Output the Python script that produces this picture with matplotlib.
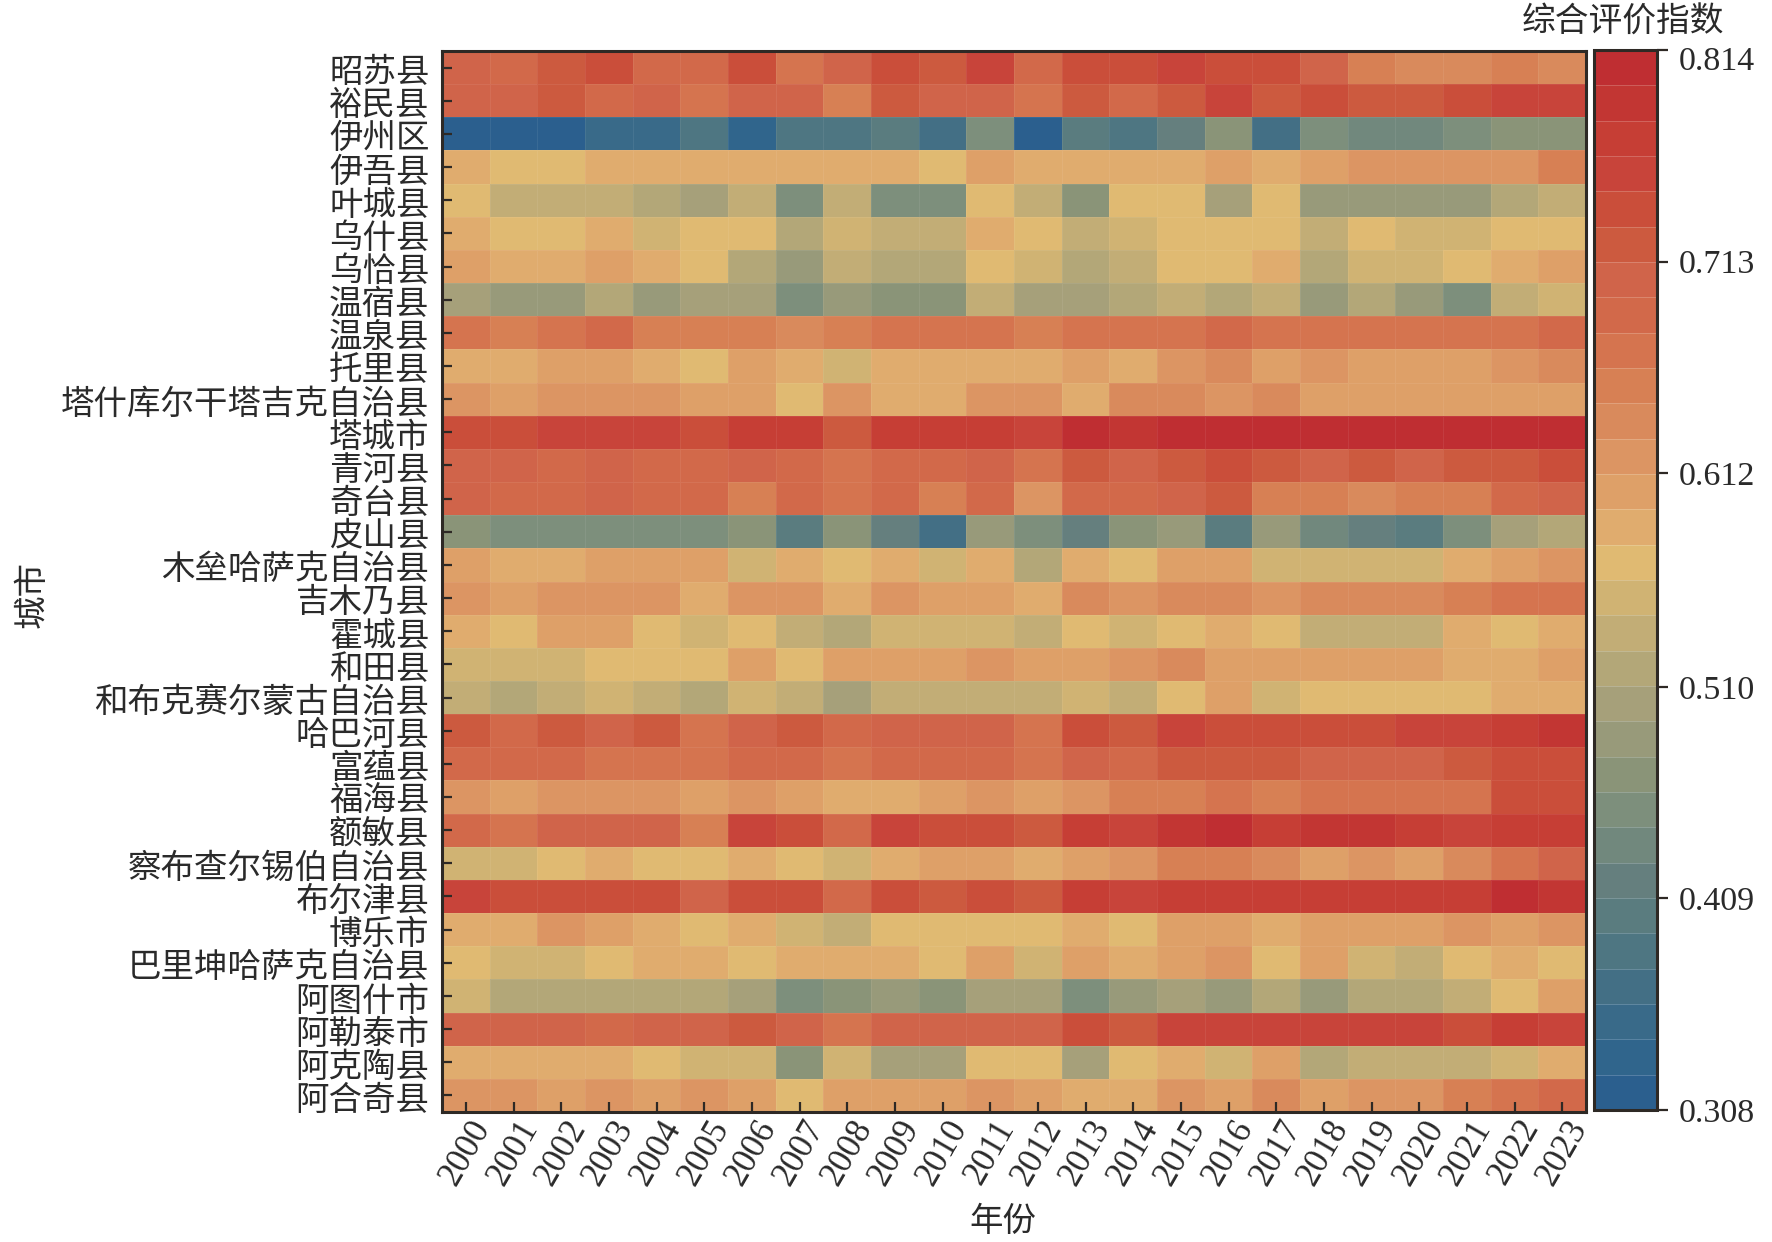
import matplotlib
matplotlib.use("Agg")
import matplotlib.pyplot as plt
from matplotlib.colors import ListedColormap, BoundaryNorm
from matplotlib.transforms import ScaledTranslation
import numpy as np

plt.rcParams['font.family'] = ['Liberation Serif', 'Noto Sans CJK SC']

cities = ["昭苏县", "裕民县", "伊州区", "伊吾县", "叶城县", "乌什县", "乌恰县", "温宿县",
          "温泉县", "托里县", "塔什库尔干塔吉克自治县", "塔城市", "青河县", "奇台县", "皮山县",
          "木垒哈萨克自治县", "吉木乃县", "霍城县", "和田县", "和布克赛尔蒙古自治县", "哈巴河县",
          "富蕴县", "福海县", "额敏县", "察布查尔锡伯自治县", "布尔津县", "博乐市",
          "巴里坤哈萨克自治县", "阿图什市", "阿勒泰市", "阿克陶县", "阿合奇县"]
years = list(range(2000, 2024))
cbar_ticks = [0.308, 0.409, 0.510, 0.612, 0.713, 0.814]

index_rows = [
    [.705,.688,.722,.738,.688,.688,.738,.671,.705,.738,.722,.755,.688,.738,.738,.755,.738,.738,.705,.654,.637,.637,.654,.637],
    [.705,.705,.722,.688,.705,.671,.705,.705,.654,.722,.705,.705,.671,.722,.688,.722,.755,.722,.738,.722,.722,.738,.755,.755],
    [.316,.316,.316,.350,.350,.384,.333,.384,.384,.401,.367,.452,.316,.401,.384,.418,.468,.367,.452,.435,.435,.452,.468,.468],
    [.587,.570,.570,.587,.587,.587,.587,.587,.587,.587,.570,.603,.587,.587,.587,.587,.603,.587,.603,.620,.620,.620,.620,.654],
    [.570,.536,.536,.536,.519,.502,.536,.452,.536,.452,.452,.570,.536,.468,.570,.570,.502,.570,.485,.485,.485,.485,.519,.536],
    [.587,.570,.570,.587,.553,.570,.570,.519,.553,.536,.536,.587,.570,.536,.553,.570,.570,.570,.536,.570,.553,.553,.570,.570],
    [.603,.587,.587,.603,.587,.570,.519,.485,.536,.519,.519,.570,.553,.519,.536,.570,.570,.587,.519,.553,.553,.570,.587,.603],
    [.502,.485,.485,.519,.485,.502,.502,.452,.485,.468,.468,.536,.502,.502,.519,.536,.519,.536,.485,.519,.485,.452,.536,.553],
    [.671,.654,.671,.688,.654,.654,.654,.637,.654,.671,.671,.671,.654,.671,.671,.671,.688,.671,.671,.671,.671,.671,.671,.688],
    [.587,.587,.603,.603,.587,.570,.603,.587,.553,.587,.587,.587,.587,.603,.587,.620,.637,.603,.620,.603,.603,.603,.620,.637],
    [.620,.603,.620,.620,.620,.603,.603,.570,.620,.587,.587,.620,.620,.587,.637,.637,.620,.637,.603,.603,.603,.603,.603,.603],
    [.738,.738,.755,.755,.755,.738,.772,.772,.722,.772,.772,.772,.755,.806,.789,.806,.806,.806,.806,.806,.806,.806,.806,.806],
    [.705,.705,.688,.705,.688,.688,.705,.688,.671,.688,.688,.705,.671,.722,.705,.722,.738,.722,.705,.722,.705,.722,.722,.738],
    [.705,.688,.688,.705,.688,.688,.654,.688,.671,.688,.654,.688,.620,.688,.688,.705,.722,.654,.654,.637,.654,.654,.688,.705],
    [.468,.452,.452,.452,.452,.452,.468,.401,.468,.418,.367,.485,.452,.418,.468,.485,.401,.485,.435,.418,.401,.452,.502,.519],
    [.603,.587,.587,.603,.603,.603,.553,.587,.570,.587,.553,.587,.519,.587,.570,.603,.603,.553,.553,.553,.553,.587,.603,.620],
    [.620,.603,.620,.620,.620,.587,.620,.620,.587,.620,.603,.603,.587,.637,.620,.637,.637,.620,.637,.637,.637,.654,.671,.671],
    [.587,.570,.603,.603,.570,.553,.570,.536,.519,.553,.553,.553,.536,.570,.553,.570,.587,.570,.536,.536,.536,.587,.570,.587],
    [.553,.553,.553,.570,.570,.570,.603,.570,.603,.603,.603,.620,.603,.603,.620,.637,.603,.603,.603,.603,.603,.587,.587,.603],
    [.536,.519,.536,.553,.536,.519,.553,.536,.502,.536,.536,.536,.536,.553,.536,.570,.603,.553,.570,.570,.570,.570,.587,.587],
    [.722,.688,.722,.705,.722,.671,.705,.722,.688,.705,.705,.705,.671,.738,.722,.755,.738,.738,.738,.738,.755,.755,.772,.789],
    [.688,.688,.688,.671,.671,.671,.688,.688,.671,.688,.688,.688,.671,.705,.688,.722,.722,.722,.705,.705,.705,.722,.738,.738],
    [.620,.603,.620,.620,.620,.603,.620,.603,.587,.587,.603,.620,.603,.620,.654,.654,.671,.654,.671,.671,.671,.671,.738,.738],
    [.688,.671,.705,.705,.705,.654,.755,.738,.688,.755,.738,.738,.722,.772,.755,.789,.806,.772,.789,.789,.772,.755,.772,.772],
    [.553,.553,.570,.587,.570,.570,.587,.570,.553,.587,.603,.603,.587,.603,.620,.654,.654,.637,.603,.620,.603,.637,.671,.705],
    [.755,.738,.738,.738,.738,.705,.738,.738,.688,.738,.722,.738,.722,.772,.755,.772,.772,.772,.772,.772,.772,.772,.806,.789],
    [.587,.587,.620,.603,.587,.570,.587,.553,.536,.570,.570,.570,.570,.587,.570,.603,.603,.587,.603,.603,.603,.620,.603,.620],
    [.570,.553,.553,.570,.587,.587,.570,.587,.587,.587,.570,.603,.553,.603,.587,.603,.620,.570,.603,.553,.536,.570,.587,.570],
    [.553,.519,.519,.519,.519,.519,.502,.452,.468,.485,.468,.502,.502,.452,.485,.502,.485,.519,.485,.519,.519,.536,.570,.603],
    [.705,.705,.705,.688,.705,.705,.722,.705,.671,.705,.705,.705,.705,.738,.722,.755,.755,.755,.755,.755,.755,.738,.772,.755],
    [.587,.587,.587,.587,.570,.553,.553,.468,.553,.502,.502,.570,.570,.502,.570,.587,.553,.603,.519,.536,.536,.536,.553,.587],
    [.620,.620,.603,.620,.603,.620,.603,.570,.603,.603,.603,.620,.603,.587,.587,.620,.603,.637,.603,.620,.620,.654,.671,.688],
]

# colour bands of the bar, bottom to top
band_colors = ["#2b5f8e", "#30658c", "#396a89", "#436f85", "#4e7682", "#5a7c7f",
               "#657f7e", "#71887d", "#7d8f7c", "#8a9478", "#989a7a", "#a6a07a",
               "#b3a778", "#c2ad76", "#d0b373", "#e0ba72", "#e0ac6e", "#dea068",
               "#dc9563", "#d98a5c", "#d78054", "#d5744f", "#d2694a", "#d0644a",
               "#cc5a3f", "#ca4e3a", "#c8443a", "#c63e35", "#c23633", "#bf2e32"]
frame = "#2e2925"
text_col = "#2a2a2a"

fig = plt.figure(figsize=(17.72, 12.42), dpi=100)
W, H = 1772.0, 1242.0
ax = fig.add_axes([442 / W, 1 - 1112 / H, (1586 - 442) / W, (1112 - 51) / H])
cax = fig.add_axes([1594 / W, 1 - 1110 / H, (1657 - 1594) / W, (1110 - 50) / H])

vals = np.array(index_rows)
cmap = ListedColormap(band_colors)
norm = BoundaryNorm(np.linspace(0.308, 0.814, 31), 30)
x = np.arange(25)
y = np.arange(33)
mesh = ax.pcolormesh(x, y, vals, cmap=cmap, norm=norm, edgecolors=(1, 1, 1, 0.07), linewidth=0.7)
ax.set_ylim(32, 0)
ax.set_xlim(0, 24)

ax.set_xticks(np.arange(24) + 0.5)
ax.set_xticklabels(years, rotation=60, fontsize=25, ha="center")
ax.set_yticks(np.arange(32) + 0.5)
ax.set_yticklabels(cities, fontsize=24.1)
ax.tick_params(axis="both", direction="in", length=7.5, width=1.6, color=frame, labelcolor=text_col)
ax.tick_params(axis="x", pad=1.5)
ax.tick_params(axis="y", pad=9)
for s in ax.spines.values():
    s.set_linewidth(2.2)
    s.set_color(frame)

# the city names sit a little low in the original
for lab in ax.get_yticklabels():
    lab.set_transform(lab.get_transform() + ScaledTranslation(0, -2.3 / 100, fig.dpi_scale_trans))

fig.text(1003 / W, 1 - 1222 / H, "年份", fontsize=24.1, ha="center", va="center", color=text_col)
fig.text(33 / W, 1 - 594 / H, "城市", fontsize=24.1, rotation=90, ha="center", va="center", color=text_col)

cb = fig.colorbar(mesh, cax=cax, ticks=cbar_ticks, drawedges=True)
cb.ax.minorticks_off()
cb.ax.set_yticklabels(["%.3f" % t for t in cbar_ticks])
cb.ax.tick_params(direction="out", length=8, width=1.6, color=frame, labelsize=24.5, labelcolor=text_col, pad=8)
cb.dividers.set_color((1, 1, 1, 0.2))
cb.dividers.set_linewidth(0.7)
cb.outline.set_linewidth(2.2)
cb.outline.set_edgecolor(frame)
top_lab = cb.ax.get_yticklabels()[-1]
top_lab.set_transform(top_lab.get_transform() + ScaledTranslation(0, -8 / 100, fig.dpi_scale_trans))
fig.text(1623 / W, 1 - 23 / H, "综合评价指数", fontsize=24.3, ha="center", va="center", color=text_col)

plt.savefig("out.png", dpi=100)
